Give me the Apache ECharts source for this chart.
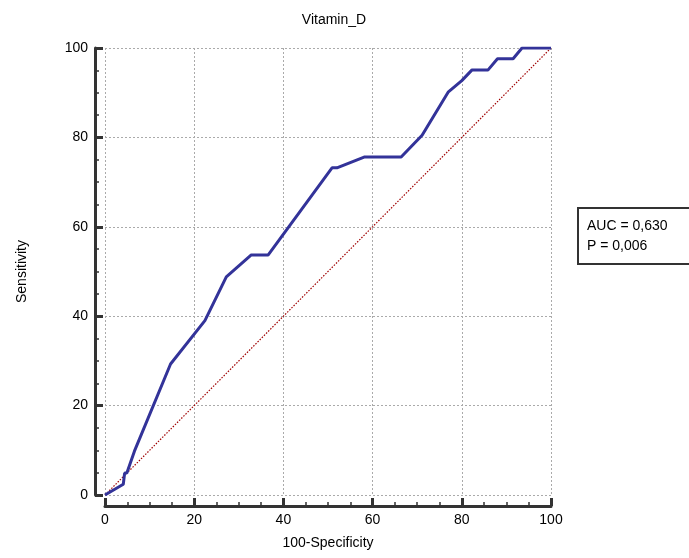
<!DOCTYPE html>
<html><head><meta charset="utf-8">
<script src="https://cdn.jsdelivr.net/npm/echarts@6/dist/echarts.min.js"></script>
<style>html,body{margin:0;padding:0;background:#fff}#c{width:689px;height:558px}</style>
</head><body><div id="c"></div>
<script>
const fpr = [0, 4.1, 4.4, 4.9, 6.6, 14.7, 22.4, 27.2, 32.8, 36.6, 50.9, 52.0, 58.1, 66.4, 71.1, 77.0, 80.0, 82.3, 85.9, 88.0, 91.5, 93.5, 100];
const tpr = [0, 2.4, 4.9, 4.9, 9.8, 29.3, 39.0, 48.8, 53.7, 53.7, 73.2, 73.2, 75.6, 75.6, 80.5, 90.2, 92.7, 95.1, 95.1, 97.6, 97.6, 100, 100];
const diagX = [0, 100];
const diagY = [0, 100];
const title = 'Vitamin_D';
const statLines = ['AUC = 0,630', 'P = 0,006'];

const chart = echarts.init(document.getElementById('c'));
const font = 'Liberation Sans, Arial, sans-serif';
function axis(extra) {
  return Object.assign({
    type: 'value', min: 0, max: 100, interval: 20,
    axisLine: {show: true, onZero: false, lineStyle: {color: '#333', width: 3}},
    axisTick: {show: true, inside: true, length: 8, lineStyle: {color: '#333', width: 3}},
    minorTick: {show: true, splitNumber: 4, length: 4, lineStyle: {color: '#333', width: 1.5}},
    splitLine: {show: true, lineStyle: {color: '#aaa', type: [2, 2], width: 1}},
    axisLabel: {color: '#000', fontSize: 14, fontFamily: font},
    nameTextStyle: {color: '#000', fontSize: 14, fontFamily: font},
    nameLocation: 'middle'
  }, extra);
}
chart.setOption({
  animation: false,
  title: {text: title, left: 329, top: 8, textAlign: 'center',
    textStyle: {fontSize: 14, fontWeight: 'normal', color: '#000', fontFamily: font}},
  grid: {left: 105, right: 138, top: 48, bottom: 63, containLabel: false, outerBoundsMode: 'none'},
  xAxis: axis({name: '100-Specificity', nameGap: 30, offset: 11,
    axisLabel: {color: '#000', fontSize: 14, fontFamily: font, margin: 7}}),
  yAxis: axis({name: 'Sensitivity', nameGap: 66, offset: 10,
    axisLabel: {color: '#000', fontSize: 14, fontFamily: font, margin: 7}}),
  series: [
    {type: 'line', data: diagX.map((v, i) => [v, diagY[i]]), symbol: 'none',
      lineStyle: {color: '#a00000', width: 1.2, type: [1.5, 1.5]}, silent: true, z: 2},
    {type: 'line', data: fpr.map((v, i) => [v, tpr[i]]), symbol: 'none',
      lineStyle: {color: '#333399', width: 3}, z: 3}
  ],
  graphic: [{
    type: 'group', left: 577, top: 207,
    children: [
      {type: 'rect', shape: {x: 0, y: 0, width: 120, height: 56},
        style: {fill: '#fff', stroke: '#333', lineWidth: 2}},
      {type: 'text', x: 9, y: 8, style: {text: statLines.join('\n'), fill: '#000',
        font: '14px ' + font, lineHeight: 20}}
    ]
  }]
});
</script></body></html>
